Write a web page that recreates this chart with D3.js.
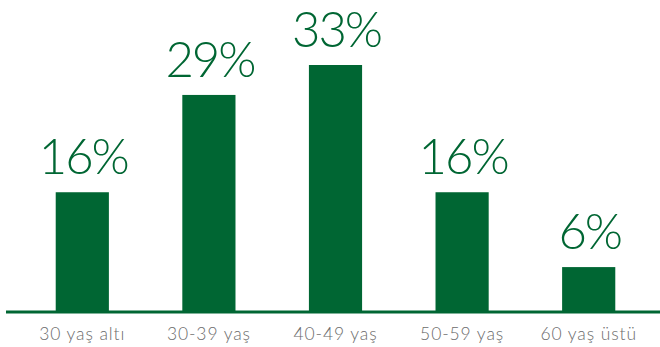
<!DOCTYPE html>
<html>
<head>
<meta charset="utf-8">
<script src="https://cdn.jsdelivr.net/npm/d3@7"></script>
<style>
  body { margin:0; background:#fff; }
  svg { display:block; }
  .val { font-family: Lato, "Open Sans", sans-serif; font-weight:300; letter-spacing:-2px; }
  .cat { font-family: Lato, "Open Sans", sans-serif; font-weight:300; letter-spacing:0.9px; }
</style>
</head>
<body>
<svg id="chart" width="660" height="347"></svg>
<script>
const categories = ["30 yaş altı", "30-39 yaş", "40-49 yaş", "50-59 yaş", "60 yaş üstü"];
const values = [16, 29, 33, 16, 6];
const labels = values.map(v => `${v}%`);

const W = 660, H = 347, BASE = 312, GREEN = "#006633";
const svg = d3.select("#chart");

const x = d3.scaleBand().domain(categories).range([19, 652]).paddingInner(0.58).paddingOuter(0.29);
const y = d3.scaleLinear().domain([0, 33]).range([BASE, 65]);

// bars
svg.append("g").selectAll("rect").data(values).join("rect")
  .attr("x", (d, i) => x(categories[i])).attr("width", x.bandwidth())
  .attr("y", d => y(d)).attr("height", d => BASE - y(d)).attr("fill", GREEN);

// baseline
svg.append("line").attr("x1", 6).attr("x2", W).attr("y1", BASE).attr("y2", BASE)
  .attr("stroke", GREEN).attr("stroke-width", 3);

// value labels
svg.append("g").selectAll("text").data(values).join("text").attr("class", "val")
  .attr("x", (d, i) => x(categories[i]) + x.bandwidth()/2 + 1).attr("y", d => y(d) - 18)
  .attr("text-anchor", "middle").attr("font-size", 49).attr("fill", GREEN)
  .text((d, i) => labels[i]);

// category labels
svg.append("g").selectAll("text").data(categories).join("text").attr("class", "cat")
  .attr("x", d => x(d) + x.bandwidth()/2).attr("y", 340)
  .attr("text-anchor", "middle").attr("font-size", 17.5).attr("fill", "#6b6b6b")
  .text(d => d);
</script>
</body>
</html>
